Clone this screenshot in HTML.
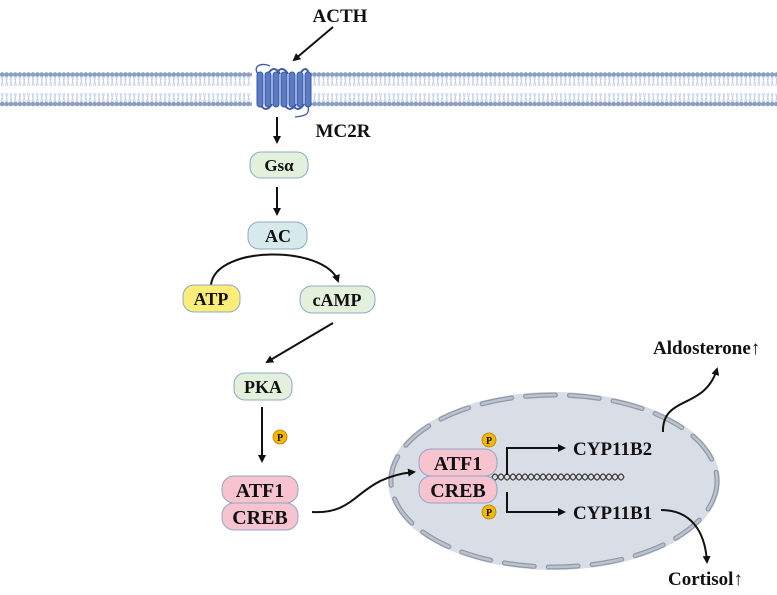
<!DOCTYPE html>
<html><head><meta charset="utf-8"><style>
html,body{margin:0;padding:0;background:#fff;}
svg{display:block;}
text{font-family:"Liberation Serif",serif;font-weight:bold;fill:#111;}
</style></head><body>
<svg width="777" height="595" viewBox="0 0 777 595" xmlns="http://www.w3.org/2000/svg">
<defs>
<marker id="ah" markerWidth="8" markerHeight="8" refX="6" refY="4" orient="auto" markerUnits="userSpaceOnUse">
<path d="M0,0 L8,4 L0,8 Z" fill="#111"/></marker>
<pattern id="mem" x="0" y="70" width="4.4" height="40" patternUnits="userSpaceOnUse">
<line x1="1.2" y1="6" x2="3.2" y2="16" stroke="#c3cfe6" stroke-width="0.9"/>
<line x1="3.2" y1="6" x2="1.2" y2="16" stroke="#c3cfe6" stroke-width="0.9"/>
<line x1="1.2" y1="23" x2="3.2" y2="32" stroke="#c3cfe6" stroke-width="0.9"/>
<line x1="3.2" y1="23" x2="1.2" y2="32" stroke="#c3cfe6" stroke-width="0.9"/>
<circle cx="2.2" cy="4.5" r="2.3" fill="#8a9dc2"/>
<circle cx="2.2" cy="34" r="2.3" fill="#8a9dc2"/>
</pattern>
</defs>
<!-- membrane -->
<rect x="0" y="70" width="252" height="40" fill="url(#mem)"/>
<rect x="311" y="70" width="466" height="40" fill="url(#mem)"/>
<!-- receptor -->
<path d="M258,74 C252,66 262,62 270,66" fill="none" stroke="#3d5aa8" stroke-width="1.3"/>
<path d="M260,104 Q266,114 272,104 M276,74 Q282,64 288,74 M292,104 Q298,114 304,104" fill="none" stroke="#3d5aa8" stroke-width="2"/>
<path d="M268,74 Q274,64 280,74 M284,104 Q290,114 296,104 M300,74 Q306,64 309,74" fill="none" stroke="#3d5aa8" stroke-width="2"/>
<g fill="#5a7cc4" stroke="#3d5aa8" stroke-width="1">
<rect x="257" y="72" width="6" height="35" rx="3"/>
<rect x="265" y="72" width="6" height="35" rx="3"/>
<rect x="273" y="72" width="6" height="35" rx="3"/>
<rect x="281" y="72" width="6" height="35" rx="3"/>
<rect x="289" y="72" width="6" height="35" rx="3"/>
<rect x="297" y="72" width="6" height="35" rx="3"/>
<rect x="305" y="72" width="6" height="35" rx="3"/>
</g>
<path d="M308,106 C310,114 306,116 295,117" fill="none" stroke="#3d5aa8" stroke-width="1.3"/>
<text x="340" y="22" font-size="19" text-anchor="middle">ACTH</text>
<line x1="333" y1="27" x2="294" y2="60" stroke="#111" stroke-width="2" marker-end="url(#ah)"/>
<text x="343" y="137" font-size="19" text-anchor="middle">MC2R</text>
<line x1="277" y1="117" x2="277" y2="142" stroke="#111" stroke-width="2" marker-end="url(#ah)"/>
<rect x="250" y="152" width="58" height="26" rx="11" fill="#e2f0dc" stroke="#8fa8c8"/>
<text x="279" y="171" font-size="17" text-anchor="middle">Gsα</text>
<line x1="277" y1="187" x2="277" y2="214" stroke="#111" stroke-width="2" marker-end="url(#ah)"/>
<rect x="248" y="222" width="59" height="27" rx="11" fill="#d6eaec" stroke="#8fa8c8"/>
<text x="278" y="242" font-size="18" text-anchor="middle">AC</text>
<path d="M211,285 C215,245 325,245 338,281" fill="none" stroke="#111" stroke-width="2" marker-end="url(#ah)"/>
<rect x="183" y="285" width="57" height="27" rx="11" fill="#fbee78" stroke="#8fa8c8"/>
<text x="211" y="305" font-size="18" text-anchor="middle">ATP</text>
<rect x="300" y="286" width="75" height="27" rx="12" fill="#e2f0dc" stroke="#8fa8c8"/>
<text x="337" y="306" font-size="18" text-anchor="middle">cAMP</text>
<line x1="333" y1="323" x2="267" y2="362" stroke="#111" stroke-width="2" marker-end="url(#ah)"/>
<rect x="234" y="373" width="58" height="27" rx="11" fill="#e2f0dc" stroke="#8fa8c8"/>
<text x="263" y="393" font-size="18" text-anchor="middle">PKA</text>
<line x1="262" y1="407" x2="262" y2="461" stroke="#111" stroke-width="2" marker-end="url(#ah)"/>
<circle cx="280" cy="437" r="7" fill="#f5b800" stroke="#b08000" stroke-width="0.8"/>
<text x="280" y="441" font-size="10" text-anchor="middle">P</text>
<rect x="222" y="476" width="76" height="27" rx="12" fill="#f6c3cf" stroke="#8fa8c8"/>
<text x="260" y="497" font-size="20" text-anchor="middle">ATF1</text>
<rect x="222" y="503" width="76" height="27" rx="12" fill="#f6c3cf" stroke="#8fa8c8"/>
<text x="260" y="524" font-size="20" text-anchor="middle">CREB</text>
<!-- nucleus -->
<ellipse cx="554" cy="481" rx="166" ry="89" fill="#d9dde6"/>
<ellipse cx="554" cy="481" rx="163" ry="86" fill="none" stroke="#8f99a8" stroke-width="5" stroke-dasharray="30 14" stroke-linecap="round"/>
<ellipse cx="554" cy="481" rx="163" ry="86" fill="none" stroke="#bcc3ce" stroke-width="2.5" stroke-dasharray="30 14" stroke-linecap="round"/>
<path d="M312,512 C360,515 355,478 414,472" fill="none" stroke="#111" stroke-width="2" marker-end="url(#ah)"/>
<!-- DNA -->
<path d="M492,477 q3,-6 6,0 t6,0 t6,0 t6,0 t6,0 t6,0 t6,0 t6,0 t6,0 t6,0 t6,0 t6,0 t6,0 t6,0 t6,0 t6,0 t6,0 t6,0 t6,0 t6,0 t6,0 t6,0" fill="none" stroke="#333" stroke-width="1.2"/>
<path d="M492,477 q3,6 6,0 t6,0 t6,0 t6,0 t6,0 t6,0 t6,0 t6,0 t6,0 t6,0 t6,0 t6,0 t6,0 t6,0 t6,0 t6,0 t6,0 t6,0 t6,0 t6,0 t6,0 t6,0" fill="none" stroke="#333" stroke-width="1.2"/>
<rect x="419" y="449" width="78" height="27" rx="12" fill="#f6c3cf" stroke="#8fa8c8"/>
<text x="458" y="470" font-size="20" text-anchor="middle">ATF1</text>
<rect x="419" y="476" width="78" height="27" rx="12" fill="#f6c3cf" stroke="#8fa8c8"/>
<text x="458" y="497" font-size="20" text-anchor="middle">CREB</text>
<circle cx="489" cy="440" r="7" fill="#f5b800" stroke="#b08000" stroke-width="0.8"/>
<text x="489" y="444" font-size="10" text-anchor="middle">P</text>
<circle cx="489" cy="512" r="7" fill="#f5b800" stroke="#b08000" stroke-width="0.8"/>
<text x="489" y="516" font-size="10" text-anchor="middle">P</text>
<path d="M507,475 L507,448 L564,448" fill="none" stroke="#111" stroke-width="2" marker-end="url(#ah)"/>
<path d="M507,492 L507,512 L564,512" fill="none" stroke="#111" stroke-width="2" marker-end="url(#ah)"/>
<text x="573" y="455" font-size="19">CYP11B2</text>
<text x="573" y="519" font-size="19">CYP11B1</text>
<path d="M663,432 C662,395 705,410 717,369" fill="none" stroke="#111" stroke-width="2" marker-end="url(#ah)"/>
<text x="653" y="354" font-size="19">Aldosterone↑</text>
<path d="M661,510 C690,510 705,530 707,562" fill="none" stroke="#111" stroke-width="2" marker-end="url(#ah)"/>
<text x="668" y="585" font-size="19">Cortisol↑</text>
</svg>
</body></html>
